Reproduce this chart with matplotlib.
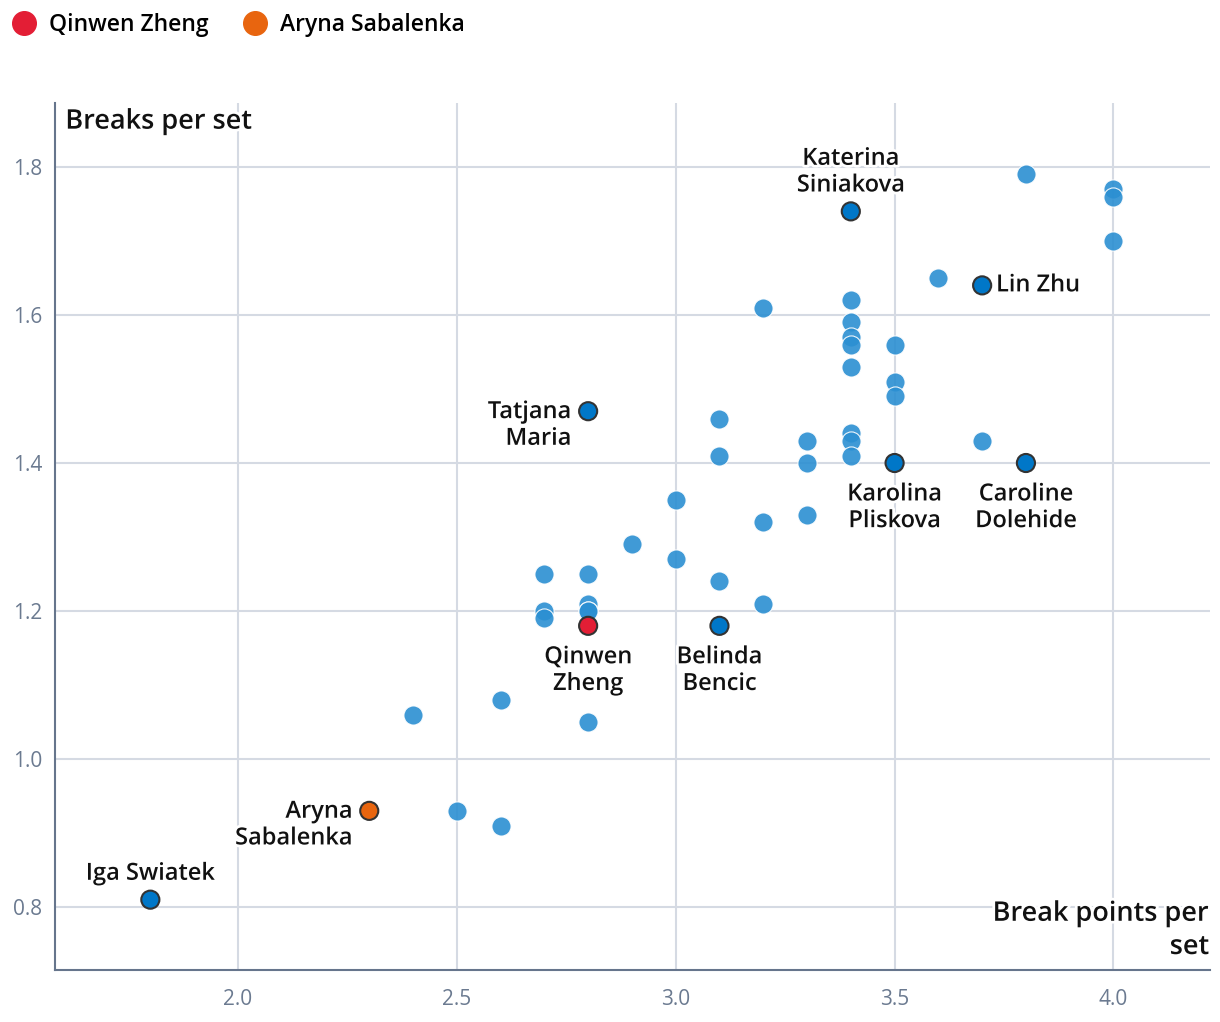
import matplotlib
matplotlib.use("Agg")
import matplotlib.pyplot as plt
import matplotlib.patheffects as pe
from matplotlib.lines import Line2D

plt.rcParams["font.family"] = ["Open Sans", "DejaVu Sans"]

# --- Data ---
bg_x = [3.8, 4.0, 4.0, 4.0, 3.6, 3.2, 3.4, 3.4, 3.4, 3.4, 3.4,
        3.5, 3.5, 3.5, 3.1, 3.1, 3.3, 3.3, 3.4, 3.4, 3.4, 3.7,
        3.0, 3.2, 3.3, 2.9, 3.0, 2.7, 2.8, 3.1, 2.7, 2.7,
        2.8, 2.8, 2.8, 3.2, 2.4, 2.6, 2.8, 2.5, 2.6]
bg_y = [1.79, 1.77, 1.76, 1.70, 1.65, 1.61, 1.62, 1.59, 1.57, 1.56, 1.53,
        1.56, 1.51, 1.49, 1.46, 1.41, 1.43, 1.40, 1.44, 1.43, 1.41, 1.43,
        1.35, 1.32, 1.33, 1.29, 1.27, 1.25, 1.25, 1.24, 1.20, 1.19,
        1.21, 1.20, 1.20, 1.21, 1.06, 1.08, 1.05, 0.93, 0.91]

names = ["Katerina\nSiniakova", "Lin Zhu", "Tatjana\nMaria", "Karolina\nPliskova",
         "Caroline\nDolehide", "Qinwen\nZheng", "Belinda\nBencic",
         "Aryna\nSabalenka", "Iga Swiatek"]
hl_x = [3.4, 3.7, 2.8, 3.5, 3.8, 2.8, 3.1, 2.3, 1.8]
hl_y = [1.74, 1.64, 1.47, 1.40, 1.40, 1.18, 1.18, 0.93, 0.81]
label_pos = ["above", "right", "left", "below", "below", "below", "below", "left", "above"]

BLUE_BG = "#2b8fd2"
BLUE_HL = "#0077c8"
RED = "#e31e35"
ORANGE = "#e8650f"
hl_colors = [BLUE_HL, BLUE_HL, BLUE_HL, BLUE_HL, BLUE_HL, RED, BLUE_HL, ORANGE, BLUE_HL]

legend_names = ["Qinwen Zheng", "Aryna Sabalenka"]
legend_colors = [RED, ORANGE]

xticks = [2.0, 2.5, 3.0, 3.5, 4.0]
yticks = [0.8, 1.0, 1.2, 1.4, 1.6, 1.8]

# --- Plot ---
fig = plt.figure(figsize=(12.2, 10.22), dpi=100)
ax = fig.add_axes([0.045, 0.0509, 0.947, 0.848])

ax.scatter(bg_x, bg_y, s=190, color=BLUE_BG, alpha=0.9, edgecolors="white",
           linewidths=0.8, zorder=3)
ax.scatter(hl_x, hl_y, s=170, color=hl_colors, edgecolors="#333333",
           linewidths=1.5, zorder=4)

halo = [pe.withStroke(linewidth=4, foreground="white")]
for name, x, y, pos in zip(names, hl_x, hl_y, label_pos):
    kw = dict(fontsize=17, fontweight="semibold", color="#111111",
              path_effects=halo, zorder=5, linespacing=1.15)
    if pos == "above":
        ax.annotate(name, (x, y), xytext=(0, 10), textcoords="offset points",
                    ha="center", va="bottom", **kw)
    elif pos == "below":
        ax.annotate(name, (x, y), xytext=(0, -14), textcoords="offset points",
                    ha="center", va="top", **kw)
    elif pos == "left":
        ax.annotate(name, (x, y), xytext=(-12, 8), textcoords="offset points",
                    ha="right", va="top", multialignment="right", **kw)
    else:
        ax.annotate(name, (x, y), xytext=(10, 0), textcoords="offset points",
                    ha="left", va="center", **kw)

ax.set_xlim(1.582, 4.221)
ax.set_ylim(0.715, 1.886)
ax.set_xticks(xticks)
ax.set_yticks(yticks)
ax.set_xticklabels([f"{t:.1f}" for t in xticks])
ax.set_yticklabels([f"{t:.1f}" for t in yticks])
ax.grid(True, color="#d5dae3", linewidth=1.5, zorder=0)
ax.set_axisbelow(True)
ax.tick_params(length=0, labelsize=15, labelcolor="#6b7a90")
ax.tick_params(axis="x", pad=14)
ax.tick_params(axis="y", pad=9)
for side in ["top", "right"]:
    ax.spines[side].set_visible(False)
for side in ["left", "bottom"]:
    ax.spines[side].set_color("#66758c")
    ax.spines[side].set_linewidth(1.5)

ax.text(0.009, 0.995, "Breaks per set", transform=ax.transAxes, ha="left", va="top",
        fontsize=19.5, fontweight="semibold", color="#111111",
        path_effects=halo, zorder=6)
ax.text(0.999, 0.081, "Break points per\nset", transform=ax.transAxes, ha="right",
        va="top", multialignment="right", fontsize=19.5, fontweight="semibold",
        color="#111111", linespacing=1.25, path_effects=halo, zorder=6)

handles = [Line2D([], [], marker="o", linestyle="", markersize=17,
                  markerfacecolor=c, markeredgecolor=c) for c in legend_colors]
fig.legend(handles, legend_names, loc="upper left", bbox_to_anchor=(0.0, 1.0),
           ncol=2, frameon=False, handlelength=1.0, handletextpad=0.6,
           columnspacing=1.5, borderaxespad=0.1, borderpad=0.45,
           prop={"weight": "semibold", "size": 16.5})

fig.savefig("out.png", dpi=100)
